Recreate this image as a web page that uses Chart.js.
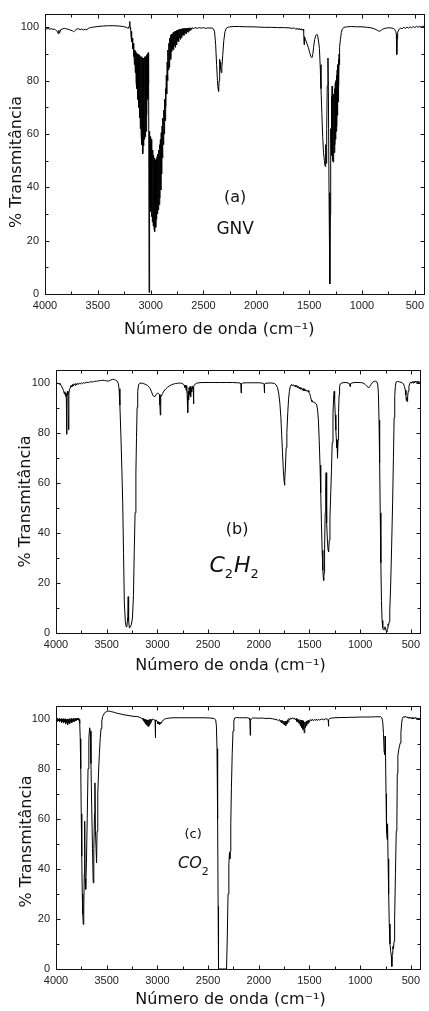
<!DOCTYPE html>
<html>
<head>
<meta charset="utf-8">
<script src="https://cdn.jsdelivr.net/npm/chart.js@4.4.0/dist/chart.umd.min.js"></script>
<style>
  html, body { margin: 0; padding: 0; background: #fff; }
  body { width: 429px; height: 1011px; position: relative; overflow: hidden; }
  canvas { position: absolute; left: 0; }
</style>
</head>
<body>
<canvas id="chartA" width="429" height="345" style="top:0px"></canvas>
<canvas id="chartB" width="429" height="340" style="top:345px"></canvas>
<canvas id="chartC" width="429" height="326" style="top:685px"></canvas>
<script>
// tick values (cm-1 and %)
var xTickLabels = [4000, 3500, 3000, 2500, 2000, 1500, 1000, 500];
var xMinorTicks = [3750, 3250, 2750, 2250, 1750, 1250, 750];
var yTickLabels = [0, 20, 40, 60, 80, 100];
var yMinorTicks = [10, 30, 50, 70, 90];

// (a) GNV  [numero de onda, % transmitancia]
var gnvSpectrum = [
  [4000,99.6],[3985,99.4],[3970,99.6],[3955,99.3],[3940,99.5],[3925,99.2],[3910,99.4],[3895,98.8],[3882,98.4],[3875,97.6],
  [3869,98.9],[3862,97.9],[3852,99.1],[3835,99.4],[3815,99.6],[3795,99.4],[3775,99.2],[3755,98.9],[3740,98.7],[3728,98.3],
  [3716,98.8],[3702,99.3],[3685,99.5],[3668,99.1],[3652,99.4],[3636,99.0],[3620,99.3],[3605,99.1],[3590,99.6],[3570,99.9],
  [3540,100.1],[3500,100.3],[3450,100.5],[3400,100.6],[3350,100.6],[3300,100.5],[3260,100.3],[3230,100.0],[3212,99.6],[3204,100.4],
  [3198,102.2],[3194,99.4],
  [3190,100.0],[3186,96.5],[3182,98.5],[3178,94.5],[3174,96.0],[3170,92.0],[3166,94.0],[3162,89.0],[3158,92.5],[3154,86.0],
  [3150,91.5],[3146,83.0],[3142,91.0],[3138,79.5],[3134,90.5],[3130,77.0],[3126,90.0],[3122,73.0],[3118,90.0],[3114,70.0],
  [3110,89.5],[3106,66.0],[3102,89.5],[3098,62.0],[3094,89.0],[3090,59.5],[3086,89.0],[3082,56.0],[3078,88.5],[3075,52.6],
  [3072,88.5],[3068,55.5],[3064,88.5],[3060,58.0],[3056,89.0],[3052,59.0],[3048,89.0],[3044,61.0],[3040,89.5],[3036,67.0],
  [3032,90.0],[3028,73.0],[3024,90.5],[3021,79.0],[3018,88.0],[3015,0.6],[3012,61.0],
  [3008,35.0],[3004,59.0],[3000,31.0],[2996,58.0],[2992,29.0],[2988,56.0],[2984,27.0],[2980,54.0],[2976,25.5],[2972,52.0],
  [2968,24.5],[2964,51.0],[2960,23.4],[2956,50.0],[2952,25.0],[2948,50.5],[2944,28.0],[2940,51.5],[2936,30.0],[2932,52.5],
  [2928,31.5],[2924,54.0],[2920,33.5],[2916,56.0],[2912,36.0],[2908,58.0],[2904,39.0],[2900,60.5],[2896,45.0],[2892,63.0],
  [2888,51.0],[2884,66.0],[2880,56.0],[2876,69.0],[2872,60.0],[2868,73.0],[2864,65.0],[2860,77.0],[2856,70.0],[2852,82.0],
  [2848,75.0],[2844,87.0],[2840,80.0],[2836,91.5],[2832,84.0],[2828,94.0],[2824,85.0],[2820,96.0],[2816,89.0],[2812,97.0],
  [2808,88.0],[2804,97.5],[2800,91.0],[2796,97.5],[2792,92.0],[2788,98.0],[2784,91.5],[2780,98.2],[2776,93.0],[2772,98.5],
  [2768,92.5],[2764,98.6],[2760,94.0],[2756,98.8],[2752,93.5],[2748,99.0],[2744,95.0],[2740,99.0],[2736,94.5],[2732,99.2],
  [2728,96.0],[2724,99.3],[2720,95.5],[2716,99.4],[2712,96.5],[2708,99.4],[2704,96.2],[2700,99.5],[2695,97.2],[2690,99.5],
  [2685,97.0],[2680,99.6],[2675,97.8],[2670,99.6],[2665,97.6],[2660,99.7],[2655,98.3],[2650,99.7],[2645,98.2],[2640,99.8],
  [2635,98.7],[2630,99.8],[2625,98.9],[2620,99.8],[2612,99.2],[2605,99.9],[2595,99.5],[2580,99.9],[2560,99.6],[2540,99.9],
  [2520,99.7],[2500,99.9],[2480,99.6],[2460,99.8],[2440,99.7],[2420,99.8],[2405,99.4],[2395,98.3],[2385,93.5],[2376,86.0],
  [2368,80.0],[2362,77.0],[2357,76.0],[2352,80.0],[2347,88.0],[2343,87.0],[2338,84.5],[2332,83.0],[2326,85.0],[2318,89.5],
  [2308,95.0],[2296,98.5],[2283,99.7],[2265,100.1],[2220,100.3],[2160,100.3],[2100,100.2],[2040,100.2],[1980,100.1],[1920,100.0],
  [1860,100.0],[1800,99.9],[1740,99.9],[1690,99.8],[1660,99.6],[1640,99.8],[1625,99.2],[1615,99.7],[1605,99.1],[1595,99.6],
  [1585,99.0],[1575,99.5],[1566,98.9],[1558,99.3],[1552,98.6],[1548,93.5],[1544,96.5],[1535,95.5],[1522,94.0],[1508,92.5],
  [1495,90.5],[1483,89.0],[1474,88.6],[1466,89.8],[1458,92.5],[1448,95.5],[1436,97.0],[1426,97.4],[1418,96.5],[1410,94.5],
  [1403,92.0],[1396,86.0],[1388,77.0],[1380,68.0],[1372,59.0],[1364,53.0],[1356,50.0],[1350,48.0],[1346,47.8],[1342,56.0],
  [1338,49.0],[1334,62.0],[1329,78.0],[1322,88.5],[1318,76.0],[1312,38.0],[1306,10.0],[1303,3.8],[1300,30.0],[1296,62.0],
  [1292,55.0],[1289,74.0],[1286,52.0],[1283,78.0],[1280,50.0],[1277,76.0],[1274,49.5],[1271,73.0],[1268,51.0],[1265,75.0],
  [1262,53.0],[1259,77.0],[1256,56.0],[1253,79.0],[1250,58.0],[1247,80.0],[1244,61.0],[1241,82.0],[1238,63.0],[1235,84.0],
  [1232,67.0],[1229,86.0],[1226,72.0],[1223,88.0],[1220,78.0],[1217,90.0],[1214,86.0],[1210,92.5],[1204,95.5],[1196,98.0],
  [1186,99.4],[1170,100.0],[1140,100.2],[1100,100.3],[1050,100.2],[1000,100.2],[950,100.0],[910,99.8],[880,99.4],[855,98.9],
  [838,98.5],[822,98.8],[805,99.3],[785,99.6],[760,99.8],[730,99.8],[705,99.6],[690,99.2],[680,98.4],[675,97.5],
  [671,89.8],[667,96.0],[662,98.2],[650,99.2],[635,99.7],[620,99.5],[605,100.0],[590,99.6],[575,100.1],[560,99.7],
  [545,100.2],[530,99.8],[515,100.3],[500,99.9],[485,100.4],[470,100.0],[455,100.4],[440,100.1],[425,100.5],[410,100.2],
  [400,100.4]
];

// (b) C2H2
var c2h2Spectrum = [
  [4000,100.0],[3990,99.6],[3980,99.8],[3970,99.3],[3960,99.5],[3948,98.7],[3936,97.8],[3926,96.8],[3918,95.5],[3912,96.3],
  [3906,94.5],[3902,95.8],[3898,94.0],[3895,79.3],[3892,94.5],[3887,96.5],[3882,95.0],[3877,81.2],[3873,95.5],[3867,97.3],
  [3860,97.8],[3852,98.8],[3844,98.2],[3836,99.3],[3828,98.6],[3820,99.5],[3812,98.9],[3804,99.6],[3796,99.1],[3788,99.7],
  [3780,99.2],[3770,99.8],[3760,99.4],[3750,99.9],[3740,99.5],[3730,100.0],[3715,99.7],[3700,100.1],[3680,100.0],[3660,100.3],
  [3640,100.2],[3620,100.5],[3600,100.5],[3580,100.7],[3560,100.8],[3540,100.9],[3520,100.8],[3500,100.6],[3480,100.6],[3460,101.0],
  [3440,101.3],[3425,101.2],[3410,100.9],[3395,100.5],[3385,99.5],[3378,97.5],[3370,91.0],[3360,79.0],[3350,65.0],[3342,52.0],
  [3334,32.0],[3326,12.0],[3316,4.5],[3308,2.5],[3300,3.0],[3292,6.5],[3288,14.5],[3284,5.0],[3276,2.0],[3266,2.5],
  [3256,3.5],[3246,6.0],[3236,15.0],[3228,33.0],[3220,48.0],[3212,64.0],[3206,78.0],[3200,90.0],[3194,96.5],[3186,99.0],
  [3175,99.7],[3160,99.8],[3140,99.6],[3120,99.3],[3100,98.9],[3085,98.3],[3070,97.5],[3058,96.3],[3046,95.0],[3034,94.4],
  [3022,94.5],[3010,95.3],[2998,95.8],[2988,95.6],[2980,95.2],[2975,91.0],[2971,87.0],[2967,94.8],[2960,94.6],[2950,95.6],
  [2936,96.6],[2920,97.4],[2900,98.1],[2880,98.7],[2860,99.1],[2840,99.4],[2820,99.6],[2800,99.7],[2780,99.8],[2760,99.7],
  [2745,99.4],[2735,98.9],[2728,98.0],[2722,99.0],[2716,96.8],[2711,98.8],[2706,94.5],[2701,88.0],[2697,96.5],[2692,93.0],
  [2687,98.0],[2682,95.0],[2677,98.4],[2672,94.2],[2667,97.8],[2662,96.2],[2657,98.6],[2652,97.4],[2647,98.2],[2644,91.5],
  [2640,98.4],[2632,99.2],[2615,99.7],[2590,99.9],[2560,100.0],[2500,100.0],[2440,100.0],[2380,100.0],[2320,100.0],[2260,100.0],
  [2210,99.9],[2185,99.8],[2177,99.5],[2174,95.8],[2171,99.5],[2160,99.8],[2120,99.9],[2080,99.9],[2040,99.9],[2000,99.9],
  [1970,99.8],[1952,99.6],[1948,99.4],[1945,95.8],[1942,99.4],[1930,99.7],[1900,99.8],[1870,99.8],[1845,99.6],[1828,99.0],
  [1815,98.0],[1803,95.5],[1792,91.8],[1782,86.0],[1774,79.0],[1766,72.0],[1758,65.0],[1750,60.5],[1746,59.0],[1742,61.0],
  [1736,67.0],[1730,74.0],[1723,80.0],[1714,88.0],[1706,93.5],[1698,96.5],[1690,98.3],[1682,99.0],[1674,99.2],[1666,98.7],
  [1658,99.1],[1650,98.5],[1642,98.9],[1634,98.2],[1626,98.8],[1618,97.9],[1610,98.5],[1602,97.6],[1594,98.2],[1586,97.3],
  [1578,97.9],[1570,96.9],[1562,97.6],[1554,96.7],[1546,97.4],[1538,96.6],[1530,97.0],[1522,96.4],[1514,96.8],[1506,96.1],
  [1498,95.6],[1490,94.5],[1482,93.0],[1476,92.4],[1466,92.3],[1456,92.1],[1446,91.9],[1436,91.6],[1428,91.0],[1420,89.0],
  [1412,85.0],[1404,77.0],[1396,67.0],[1389,56.0],[1382,44.0],[1375,33.0],[1368,25.0],[1363,22.0],[1360,21.0],[1356,24.0],
  [1351,34.0],[1345,48.0],[1340,58.0],[1336,64.0],[1333,56.0],[1328,44.0],[1322,36.0],[1316,33.0],[1311,32.5],[1305,37.0],
  [1298,46.0],[1290,56.0],[1283,65.0],[1276,76.0],[1268,88.0],[1260,95.0],[1256,96.5],[1252,93.5],[1246,87.0],[1240,81.0],
  [1235,77.5],[1231,74.0],[1228,77.0],[1225,71.0],[1222,69.8],[1218,77.0],[1213,88.0],[1208,95.0],[1203,98.5],[1195,99.5],
  [1180,99.8],[1160,100.0],[1140,100.0],[1120,99.8],[1106,99.6],[1100,98.4],[1095,99.5],[1080,99.8],[1060,100.0],[1040,100.0],
  [1020,100.0],[1000,100.0],[980,99.9],[962,99.6],[948,99.1],[935,98.6],[922,98.1],[914,98.0],[904,98.5],[892,99.3],
  [878,100.1],[862,100.5],[846,100.5],[834,100.2],[826,99.0],[820,95.5],[814,85.0],[808,68.0],[802,48.0],[796,28.0],
  [790,13.0],[784,5.0],[777,2.0],[770,1.2],[763,1.5],[756,2.5],[749,1.5],[742,0.8],[737,0.4],[732,1.8],
  [726,3.5],[720,3.0],[714,4.5],[708,9.0],[700,18.0],[690,34.0],[680,52.0],[672,70.0],[665,86.0],[659,94.5],
  [653,98.5],[646,100.2],[632,100.4],[615,100.3],[598,100.1],[584,99.9],[572,99.4],[563,98.4],[555,97.0],[549,95.0],
  [545,92.8],[541,94.0],[537,92.4],[532,94.2],[526,96.5],[519,98.5],[511,99.6],[502,100.2],[494,99.7],[486,100.4],
  [478,99.8],[470,100.5],[462,99.9],[454,100.6],[446,100.0],[438,100.5],[430,99.9],[422,100.4],[414,99.9],[406,100.3],
  [400,99.8]
];

// (c) CO2
var co2Spectrum = [
  [4000,100.0],[3995,99.5],[3990,100.0],[3985,98.9],[3980,99.8],[3975,99.1],[3970,100.0],[3965,98.6],[3960,99.8],[3955,99.0],
  [3950,99.9],[3945,98.4],[3940,99.7],[3935,98.8],[3930,99.9],[3925,98.2],[3920,99.6],[3915,98.6],[3910,99.9],[3905,97.8],
  [3900,99.5],[3895,98.5],[3890,99.8],[3885,97.5],[3880,99.5],[3875,98.3],[3870,99.9],[3865,98.0],[3860,99.6],[3855,98.7],
  [3850,100.0],[3845,98.3],[3840,99.7],[3835,98.9],[3830,100.0],[3825,98.6],[3820,99.8],[3815,99.2],[3810,100.1],[3805,99.0],
  [3800,99.9],[3795,99.4],[3790,100.2],[3785,99.5],[3780,100.0],[3775,99.3],[3770,99.6],[3766,98.0],[3761,92.0],[3756,80.0],
  [3751,62.0],[3746,45.0],[3741,30.0],[3736,22.0],[3731,17.8],[3726,24.0],[3721,38.0],[3717,59.0],[3713,36.0],[3707,31.8],
  [3700,42.0],[3692,60.0],[3684,80.0],[3676,92.0],[3668,96.3],[3662,95.0],[3655,82.0],[3648,65.0],[3640,48.0],[3633,34.4],
  [3627,48.0],[3620,62.0],[3616,74.3],[3611,55.0],[3600,42.4],[3595,55.0],[3588,70.0],[3580,79.0],[3572,86.0],[3564,92.0],
  [3556,96.0],[3548,99.0],[3540,100.8],[3520,102.3],[3500,102.8],[3480,103.0],[3450,102.7],[3420,102.4],[3390,102.0],[3360,101.8],
  [3330,101.5],[3300,101.3],[3270,101.1],[3240,100.9],[3210,100.8],[3180,100.6],[3160,100.2],[3150,99.8],[3145,100.1],[3140,99.2],
  [3135,100.0],[3130,98.6],[3125,99.8],[3120,98.0],[3115,99.6],[3110,97.5],[3105,99.5],[3100,97.2],[3095,99.4],[3090,96.8],
  [3085,99.5],[3080,97.3],[3075,99.6],[3070,98.0],[3065,99.8],[3060,98.6],[3050,99.8],[3040,99.6],[3030,99.5],[3023,99.4],
  [3020,92.3],[3017,99.2],[3010,99.4],[3003,98.8],[2996,98.0],[2990,98.7],[2984,97.6],[2978,98.6],[2972,97.9],[2966,98.5],
  [2960,98.2],[2952,98.9],[2942,99.4],[2928,99.8],[2910,100.0],[2880,100.2],[2840,100.3],[2780,100.3],[2700,100.3],[2620,100.3],
  [2540,100.3],[2480,100.2],[2440,100.0],[2425,99.5],[2418,97.0],[2412,88.0],[2406,60.0],[2401,25.0],[2397,0.0],[2360,0.0],
  [2318,0.0],[2311,12.0],[2303,30.0],[2295,42.0],[2289,46.5],[2285,44.0],[2282,47.0],[2276,58.0],[2270,72.0],[2262,86.0],
  [2254,95.0],[2246,99.0],[2238,100.2],[2220,100.4],[2190,100.3],[2150,100.3],[2110,100.3],[2094,100.1],[2088,99.4],[2084,93.3],
  [2081,99.3],[2074,99.8],[2060,100.2],[2030,100.2],[2000,100.1],[1965,100.2],[1930,100.0],[1895,100.1],[1865,99.9],[1840,99.7],
  [1820,99.5],[1805,99.2],[1795,99.6],[1788,98.7],[1781,99.4],[1774,98.2],[1767,99.2],[1760,97.8],[1753,99.0],[1746,97.4],
  [1740,98.8],[1734,97.2],[1728,99.0],[1722,97.9],[1716,99.5],[1710,98.6],[1703,100.0],[1695,99.5],[1685,100.2],[1675,99.8],
  [1665,100.3],[1655,99.8],[1645,100.1],[1637,99.4],[1630,100.0],[1624,98.8],[1618,99.6],[1612,98.4],[1606,99.6],[1600,97.8],
  [1594,99.5],[1588,97.0],[1582,99.3],[1576,96.4],[1570,99.2],[1564,95.6],[1558,98.9],[1552,94.3],[1546,98.6],[1540,96.3],
  [1534,98.8],[1528,97.2],[1522,99.1],[1515,98.0],[1508,99.4],[1500,98.5],[1492,99.6],[1482,99.1],[1472,99.7],[1462,99.1],
  [1452,99.6],[1442,99.2],[1432,99.8],[1422,99.2],[1412,99.7],[1400,99.4],[1380,99.8],[1360,99.5],[1340,99.9],[1325,99.8],
  [1316,99.5],[1313,96.9],[1309,99.6],[1300,100.0],[1280,100.2],[1250,100.3],[1200,100.4],[1150,100.4],[1100,100.5],[1050,100.5],
  [1000,100.6],[950,100.6],[900,100.6],[850,100.7],[800,100.7],[786,100.3],[777,98.5],[770,94.0],[764,87.0],[758,85.6],
  [754,93.0],[750,86.0],[745,70.0],[740,55.0],[734,51.7],[730,58.0],[725,44.0],[719,30.0],[713,18.0],[706,10.0],
  [699,7.0],[692,5.0],[688,1.0],[684,6.0],[678,9.0],[672,8.0],[666,11.0],[660,20.0],[652,38.0],[644,55.0],
  [638,57.2],[634,78.0],[628,85.0],[620,87.5],[612,89.0],[605,90.2],[598,94.5],[590,98.5],[584,100.0],[576,100.6],
  [568,100.8],[560,100.5],[552,100.9],[544,100.4],[536,100.7],[528,100.2],[520,100.6],[512,100.1],[504,100.5],[496,99.9],
  [488,100.4],[480,99.8],[472,100.3],[464,100.0],[456,100.5],[448,99.9],[440,100.3],[432,99.7],[424,100.2],[416,99.8],
  [408,100.3],[400,99.9]
];

var INK = '#111';
var TITLE_FONT = "'DejaVu Sans', sans-serif";
var TICK_FONT = "'Liberation Sans', Arial, sans-serif";
var X_TITLE = 'Número de onda (cm⁻¹)';
var Y_TITLE = '% Transmitância';

// moldura + ticks para dentro
var frameTicks = {
  id: 'frameTicks',
  afterDraw: function(chart) {
    var ctx = chart.ctx, a = chart.chartArea, x = chart.scales.x, y = chart.scales.y;
    var L = Math.round(a.left) + 0.5, R = Math.round(a.right) - 0.5;
    var T = Math.round(a.top) + 0.5, B = Math.round(a.bottom) + 0.5;
    ctx.save();
    ctx.strokeStyle = INK;
    ctx.lineWidth = 1;
    ctx.strokeRect(L, T, R - L, B - T);
    ctx.beginPath();
    function xt(v, len) {
      var p = Math.round(x.getPixelForValue(v)) + 0.5;
      ctx.moveTo(p, B); ctx.lineTo(p, B - len);
      ctx.moveTo(p, T); ctx.lineTo(p, T + len);
    }
    function yt(v, len) {
      var p = Math.round(y.getPixelForValue(v)) + 0.5;
      ctx.moveTo(L, p); ctx.lineTo(L + len, p);
      ctx.moveTo(R, p); ctx.lineTo(R - len, p);
    }
    xTickLabels.forEach(function(v) { xt(v, 4); });
    xMinorTicks.forEach(function(v) { xt(v, 3); });
    yTickLabels.forEach(function(v) { yt(v, 4); });
    yMinorTicks.forEach(function(v) { yt(v, 3); });
    ctx.stroke();
    ctx.restore();
  }
};

// textos dentro do grafico: (a) GNV etc, com subscritos
var panelLabels = {
  id: 'panelLabels',
  afterDraw: function(chart, args, opts) {
    var ctx = chart.ctx, x = chart.scales.x, y = chart.scales.y;
    ctx.save();
    ctx.fillStyle = INK;
    ctx.textBaseline = 'alphabetic';
    (opts.items || []).forEach(function(item) {
      var parts = item.parts;
      var total = 0;
      parts.forEach(function(p) {
        ctx.font = (p.style || '') + ' ' + p.size + 'px ' + TITLE_FONT;
        p.w = ctx.measureText(p.text).width + (p.gap || 0);
        total += p.w;
      });
      var px = x.getPixelForValue(item.wn) - total / 2;
      var py = y.getPixelForValue(item.t);
      parts.forEach(function(p) {
        ctx.font = (p.style || '') + ' ' + p.size + 'px ' + TITLE_FONT;
        ctx.textAlign = 'left';
        ctx.fillText(p.text, px, py + (p.dy || 0));
        px += p.w;
      });
    });
    ctx.restore();
  }
};

function buildChart(id, points, panel) {
  return new Chart(document.getElementById(id), {
    type: 'line',
    data: {
      datasets: [{
        data: points.map(function(p) { return { x: p[0], y: p[1] }; }),
        borderColor: '#000',
        borderWidth: 1,
        pointRadius: 0,
        tension: 0,
        fill: false
      }]
    },
    options: {
      responsive: false,
      animation: false,
      devicePixelRatio: 1,
      layout: { padding: { top: panel.plotTop, right: 429 - panel.plotRight, left: 0, bottom: 0 } },
      plugins: {
        legend: { display: false },
        tooltip: { enabled: false },
        panelLabels: { items: panel.labels }
      },
      scales: {
        x: {
          type: 'linear', reverse: true, min: 400, max: 4000,
          grid: { display: false, drawTicks: false }, border: { display: false },
          ticks: {
            font: { family: TICK_FONT, size: 11 }, color: '#222', padding: 5,
            maxRotation: 0, autoSkip: false,
            callback: function(v) { return String(v); }
          },
          afterBuildTicks: function(s) { s.ticks = xTickLabels.map(function(v) { return { value: v }; }); },
          afterFit: function(s) { s.height = panel.height - panel.plotBottom; },
          title: {
            // espacos no fim deslocam o titulo um pouco para a esquerda
            display: true, text: X_TITLE + panel.xTitleTail, color: INK,
            font: { family: TITLE_FONT, size: 16 }, padding: { top: 0, bottom: panel.xTitlePad }
          }
        },
        y: {
          min: 0, max: 105,
          grid: { display: false, drawTicks: false }, border: { display: false },
          ticks: {
            font: { family: TICK_FONT, size: 11 }, color: '#222', padding: 6,
            callback: function(v) { return String(v); }
          },
          afterBuildTicks: function(s) { s.ticks = yTickLabels.map(function(v) { return { value: v }; }); },
          afterFit: function(s) { s.width = panel.plotLeft; },
          title: {
            display: true, text: Y_TITLE + panel.yTitleTail, color: INK,
            font: { family: TITLE_FONT, size: 16 }, padding: { top: panel.yTitlePad, bottom: 0 }
          }
        }
      }
    },
    plugins: [frameTicks, panelLabels]
  });
}

buildChart('chartA', gnvSpectrum, {
  height: 345, plotTop: 14, plotBottom: 294, plotLeft: 45, plotRight: 429,
  xTitlePad: 6, yTitlePad: 7, xTitleTail: '\u2003\u2003', yTitleTail: '\u2003',
  labels: [
    { wn: 2200, t: 34.4, parts: [{ text: '(a)', size: 16 }] },
    { wn: 2200, t: 22.5, parts: [{ text: 'GNV', size: 17 }] }
  ]
});

buildChart('chartB', c2h2Spectrum, {
  height: 340, plotTop: 25, plotBottom: 288, plotLeft: 56, plotRight: 421,
  xTitlePad: 10, yTitlePad: 16, xTitleTail: '\u2003', yTitleTail: '',
  labels: [
    { wn: 2213, t: 39.7, parts: [{ text: '(b)', size: 16 }] },
    { wn: 2243, t: 24.3, parts: [
      { text: 'C', size: 22, style: 'italic' },
      { text: '2', size: 13, dy: 6, gap: 1 },
      { text: 'H', size: 22, style: 'italic' },
      { text: '2', size: 13, dy: 6 }
    ] }
  ]
});

buildChart('chartC', co2Spectrum, {
  height: 326, plotTop: 21, plotBottom: 284, plotLeft: 56, plotRight: 421,
  xTitlePad: 2, yTitlePad: 17, xTitleTail: '\u2003', yTitleTail: '\u2002',
  labels: [
    { wn: 2648, t: 52.3, parts: [{ text: '(c)', size: 13 }] },
    { wn: 2640, t: 40.3, parts: [
      { text: 'CO', size: 16, style: 'italic' },
      { text: '2', size: 11, dy: 7, gap: 1 }
    ] }
  ]
});
</script>
</body>
</html>
